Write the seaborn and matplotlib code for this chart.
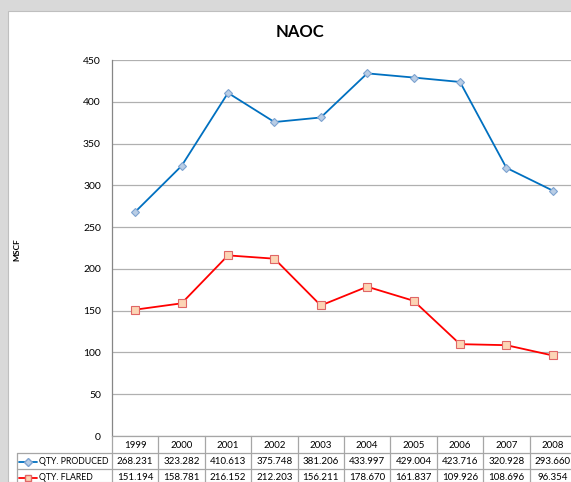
import numpy as np
import pandas as pd
import seaborn as sns
import matplotlib.pyplot as plt
from matplotlib.lines import Line2D
from matplotlib.patches import Rectangle
from matplotlib.transforms import blended_transform_factory

# data
years = ['1999', '2000', '2001', '2002', '2003', '2004', '2005', '2006', '2007', '2008']
produced = [268.231, 323.282, 410.613, 375.748, 381.206, 433.997, 429.004, 423.716, 320.928, 293.660]
flared = [151.194, 158.781, 216.152, 212.203, 156.211, 178.670, 161.837, 109.926, 108.696, 96.354]
produced_lbl = ['268.231', '323.282', '410.613', '375.748', '381.206', '433.997', '429.004', '423.716', '320.928', '293.660']
flared_lbl = ['151.194', '158.781', '216.152', '212.203', '156.211', '178.670', '161.837', '109.926', '108.696', '96.354']

sns.set_style('white')
plt.rcParams['font.family'] = ['Lato', 'DejaVu Sans']
plt.rcParams['text.color'] = 'black'

W, H = 571, 482
fig = plt.figure(figsize=(W / 100, H / 100), dpi=100, facecolor='#D9D9D9')


def fy(p):
    return (H - p) / H


# white chart area
fig.patches.append(Rectangle((8 / W, 0), 1, fy(11), transform=fig.transFigure,
                             facecolor='white', edgecolor='#BFBFBF', lw=0.8, zorder=-5))

left, right, top, bottom = 112, 576, 60, 436
ax = fig.add_axes([left / W, fy(bottom), (right - left) / W, (bottom - top) / H])
ax.set_facecolor('none')

df = pd.DataFrame({'x': np.arange(len(years)), 'prod': produced, 'flare': flared})
sns.lineplot(data=df, x='x', y='prod', ax=ax, color='#0070C0', lw=1.3, marker='D',
             markersize=3.8, markerfacecolor='#B9CDE5', markeredgecolor='#7EA3D0', markeredgewidth=0.8)
sns.lineplot(data=df, x='x', y='flare', ax=ax, color='#FF0000', lw=1.3, marker='s',
             markersize=5.2, markerfacecolor='#FCD5B5', markeredgecolor='#E06666', markeredgewidth=0.8)

ax.set_xlim(-0.5, len(years) - 0.5)
ax.set_ylim(0, 450)
ax.set_yticks(range(0, 451, 50))
ax.yaxis.grid(True, color='#B0B0B0', lw=0.9)
ax.set_axisbelow(True)
ax.set_xticks([])
ax.set_xlabel('')
ax.set_ylabel('')
for s in ['top', 'right', 'bottom']:
    ax.spines[s].set_visible(False)
ax.spines['left'].set_color('#868686')
ax.spines['left'].set_linewidth(0.9)
ax.tick_params(axis='y', length=0, labelsize=7.5, pad=8, colors='black')

fig.text(300 / W, fy(32), 'NAOC', ha='center', va='center', fontsize=12, fontweight='bold')
fig.text(17 / W, fy(250), 'MSCF', ha='center', va='center', rotation=90, fontsize=6, fontweight='bold')

# data table under the axis
tr = blended_transform_factory(ax.transData, fig.transFigure)
trf = fig.transFigure
gcol = '#A6A6A6'
rows = [436, 453, 469, 486]
leg_left = 17
fig.add_artist(Line2D([left / W, 1], [fy(436)] * 2, transform=trf, color=gcol, lw=0.9))
for r in rows[1:]:
    fig.add_artist(Line2D([leg_left / W, 1], [fy(r)] * 2, transform=trf, color=gcol, lw=0.9))
fig.add_artist(Line2D([leg_left / W] * 2, [fy(453), 0], transform=trf, color=gcol, lw=0.9))
for i in range(len(years) + 1):
    fig.add_artist(Line2D([i - 0.5] * 2, [fy(436), 0], transform=tr, color=gcol, lw=0.9))

for i, y in enumerate(years):
    fig.text(i, fy(445), y, transform=tr, ha='center', va='center', fontsize=7)
    fig.text(i, fy(461.5), produced_lbl[i], transform=tr, ha='center', va='center', fontsize=7)
    fig.text(i, fy(477.5), flared_lbl[i], transform=tr, ha='center', va='center', fontsize=7)

fig.add_artist(Line2D([19 / W, 28 / W, 37 / W], [fy(461.5)] * 3, transform=trf, color='#0070C0', lw=1.3,
                      marker='D', markersize=3.6, markevery=[1], markerfacecolor='#B9CDE5', markeredgecolor='#7EA3D0'))
fig.add_artist(Line2D([19 / W, 28 / W, 37 / W], [fy(477.5)] * 3, transform=trf, color='#FF0000', lw=1.3,
                      marker='s', markersize=5, markevery=[1], markerfacecolor='#FCD5B5', markeredgecolor='#E06666'))
fig.text(39 / W, fy(461.5), 'QTY. PRODUCED', ha='left', va='center', fontsize=6.3)
fig.text(39 / W, fy(477.5), 'QTY. FLARED', ha='left', va='center', fontsize=6.3)

fig.savefig('out.png', dpi=100, facecolor=fig.get_facecolor())
